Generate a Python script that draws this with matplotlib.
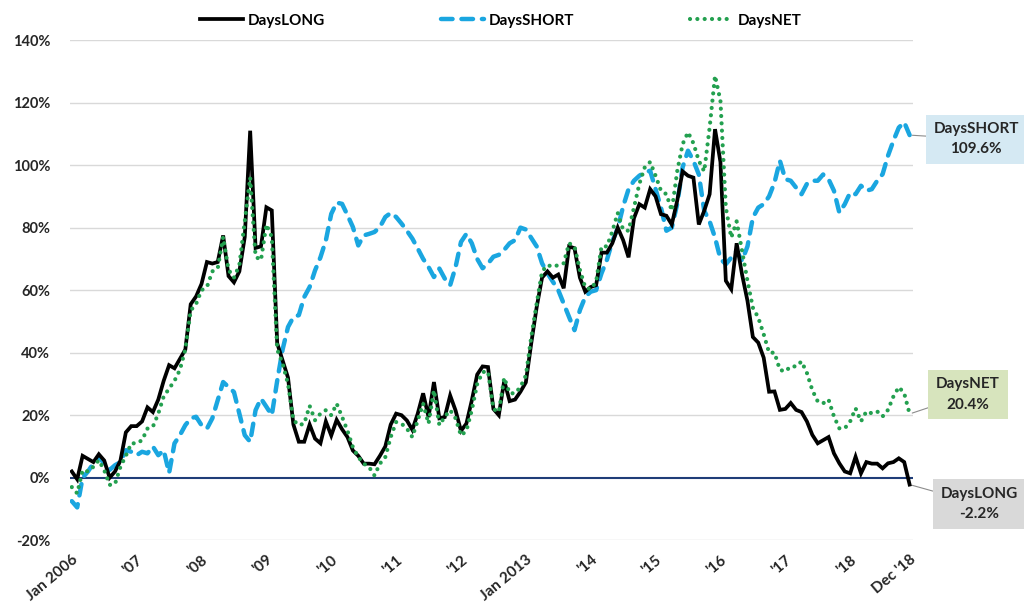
import matplotlib
matplotlib.use('Agg')
import matplotlib.pyplot as plt
import numpy as np

plt.rcParams['font.family'] = ['Lato', 'DejaVu Sans']
plt.rcParams['font.weight'] = 'bold'

# monthly values, Jan 2006 .. Dec 2018 (in %)
days_long = [
    2, -0.5, 7, 6, 5, 7.5, 5.5, 0, 2, 5.5,
    14.5, 16.5, 16.5, 18, 22.5, 21, 25, 31, 36, 35,
    38, 41, 55.5, 58, 62, 69, 68.5, 69, 77.5, 64.5,
    62.5, 66, 77, 111, 73.5, 74, 86.5, 85.5, 43, 37.5,
    32, 17, 11.5, 11.5, 17, 12.5, 11, 18, 13.5, 18.5,
    15.5, 13, 8.7, 7, 4.5, 4.5, 4.3, 7, 10, 17,
    20.5, 20, 18.3, 15.3, 20.5, 27, 19.4, 30.6, 19, 19.4,
    26.3, 21.5, 15, 17.3, 24.7, 33, 35.6, 35.4, 22, 20,
    31, 24.5, 25, 27.5, 30.5, 43, 54.5, 64, 66, 64,
    65, 60.6, 74, 73.4, 64, 59.5, 61, 61.6, 72, 72,
    75, 80, 76, 70.5, 83, 87.5, 86.4, 92.3, 90, 84.3,
    83.8, 81, 88.6, 98, 96.6, 96, 81, 85.4, 90.7, 111.5,
    101, 63, 60.3, 75, 65, 56.6, 45, 43.2, 38.4, 27.5,
    27.6, 21.7, 22, 23.9, 21.7, 21, 18, 13.7, 11, 12,
    13, 7.8, 4.6, 2, 1.4, 6.7, 1.4, 5, 4.5, 4.5,
    3, 4.6, 5, 6.2, 5, -2.2,
]
days_short = [
    -7.5, -9.5, 0, 2, 4.6, 6.7, 4.5, 2.5, 4, 5,
    8.8, 8.3, 7.2, 8.3, 7.8, 10, 7.2, 8.8, 1.5, 11,
    13.6, 16.8, 19, 19.5, 16.8, 15.7, 19, 24.8, 30.6, 29,
    27.4, 20.5, 13.6, 11.5, 21.6, 25.3, 22.7, 20, 31, 41,
    48.2, 51.4, 52, 57.8, 61, 66.3, 70.5, 75.9, 84.4, 88,
    87.6, 84, 80.2, 74.3, 77.5, 78, 78.6, 80.2, 83.4, 84.7,
    83.4, 81.3, 79, 76.5, 73.3, 70, 67.4, 64.2, 66.9, 63.7,
    61.6, 67.4, 75.4, 78, 75, 70, 67, 68.5, 70.7, 71.3,
    72.9, 75, 76, 80, 79.4, 76.7, 74, 68.6, 65.4, 62.7,
    60, 55.7, 51.4, 47.2, 53.6, 57.9, 59.5, 60, 65.4, 69.7,
    75.6, 79.8, 86.8, 92.3, 95, 96.6, 97.7, 98.2, 92.3, 86.4,
    79, 80, 87.5, 99.3, 104.6, 101.4, 97, 85.4, 82, 76.8,
    70, 68.3, 70.4, 72.6, 69.4, 74, 83.2, 86.4, 87.5, 90,
    94.4, 101.4, 95.5, 95, 92.8, 90.7, 94, 95, 95, 97,
    95.5, 91.8, 84.8, 87.5, 91.2, 90.7, 93.4, 91.8, 92.3, 95,
    97.1, 103, 107.8, 112, 113.7, 109.6,
]
days_net = [
    -3, -5, 2.4, 2, 3.5, 5.6, 2.4, -2.3, -2, 3.5,
    7, 11, 11, 12, 15.7, 16.3, 20.5, 26, 28.5, 31,
    34.5, 41, 53.5, 55.6, 60, 61, 66, 67, 77, 66.5,
    64, 68, 82, 96, 70.7, 69.6, 81, 77, 41, 36.5,
    30, 18.4, 16.8, 17.3, 23, 18.4, 20.5, 21.6, 20, 23.7,
    19.5, 15, 9.8, 6.6, 4.5, 3.4, 0.7, 4.5, 6.6, 13,
    17.8, 17.3, 15.7, 13, 18.3, 23.7, 17.3, 28, 16.8, 19.5,
    21.6, 19, 13.5, 15, 21.6, 30, 33.8, 34, 22, 21,
    32, 27, 27, 29, 32.7, 45, 55.7, 66, 68, 67.5,
    68, 68.6, 75, 74, 66.5, 60.8, 60.3, 62.7, 74, 74,
    78.8, 84.7, 79.3, 79, 86.4, 94, 99.3, 101, 96.6, 91.8,
    90.7, 85.4, 98, 106.7, 110.5, 107, 101.4, 98, 112, 128.6,
    120.6, 86.4, 76.8, 82, 72.6, 63, 54.4, 51.2, 45.9, 40,
    40, 34.5, 34, 35.6, 35.6, 37.2, 33.5, 28, 24.4, 23.8,
    25, 19.6, 15.8, 15.8, 18, 22.2, 18, 21.2, 20.6, 21.2,
    19.6, 21.7, 26, 29, 27, 20.4,
]

tick_months = [0, 12, 24, 36, 48, 60, 72, 84, 96, 108, 120, 132, 144, 155]
tick_labels = ['Jan 2006', "'07", "'08", "'09", "'10", "'11", "'12",
               'Jan 2013', "'14", "'15", "'16", "'17", "'18", "Dec '18"]
y_ticks = [-20, 0, 20, 40, 60, 80, 100, 120, 140]

C_LONG = '#000000'
C_SHORT = '#1aa6e0'
C_NET = '#23a04f'

months = np.arange(len(days_long))

fig = plt.figure(figsize=(10.24, 6.07), dpi=100)
ax = fig.add_axes([0.068, 0.110, 0.824, 0.824])

for y in y_ticks:
    if y != 0:
        ax.axhline(y, color='#d9d9d9', lw=1.0, zorder=0)
ax.axhline(0, color='#1f3d78', lw=1.5, zorder=1)

ax.plot(months, days_long, color=C_LONG, lw=2.7, label='DaysLONG',
        solid_joinstyle='miter', zorder=4)
ax.plot(months, days_short, color=C_SHORT, lw=3.2, label='DaysSHORT',
        dashes=(2.6, 2.0), dash_capstyle='round', zorder=3)
ax.plot(months, days_net, color=C_NET, lw=3.0, label='DaysNET',
        dashes=(0.01, 1.75), dash_capstyle='round', zorder=5)

ax.set_xlim(-0.4, 155.7)
ax.set_ylim(-20, 140)
ax.set_yticks(y_ticks)
ax.set_yticklabels(['{}%'.format(v) for v in y_ticks], fontsize=10.5,
                   color='#262626', fontweight='bold')
ax.set_xticks(tick_months)
ax.set_xticklabels(tick_labels, fontsize=11, color='#262626',
                   fontweight='bold', rotation=40, ha='right',
                   rotation_mode='anchor')
ax.tick_params(axis='both', length=0)
ax.tick_params(axis='x', pad=9)
ax.tick_params(axis='y', pad=14)
for s in ax.spines.values():
    s.set_visible(False)

leg = fig.legend(loc='upper center', bbox_to_anchor=(0.489, 1.0), ncol=3,
                 frameon=False, handlelength=2.8, columnspacing=7.6,
                 handletextpad=0.3, prop={'size': 11, 'weight': 'bold'})

last = len(days_long) - 1
boxes = [
    ('DaysSHORT\n{:.1f}%'.format(days_short[-1]), days_short[-1], '#d5e9f3', (48, -3)),
    ('DaysNET\n{:.1f}%'.format(days_net[-1]), days_net[-1], '#d7e4bd', (42, 14)),
    ('DaysLONG\n{:.1f}%'.format(days_long[-1]), days_long[-1], '#d9d9d9', (50, -14)),
]
for txt, val, fc, off in boxes:
    ax.annotate(txt, xy=(last, val), xytext=off, textcoords='offset points',
                ha='center', va='center', fontsize=11, fontweight='bold',
                color='#262626', annotation_clip=False, linespacing=1.55,
                bbox=dict(boxstyle='square,pad=0.5', fc=fc, ec='none'),
                arrowprops=dict(arrowstyle='-', color='#8c8c8c', lw=0.8,
                                shrinkA=0, shrinkB=2))

fig.savefig('out.png', dpi=100)
